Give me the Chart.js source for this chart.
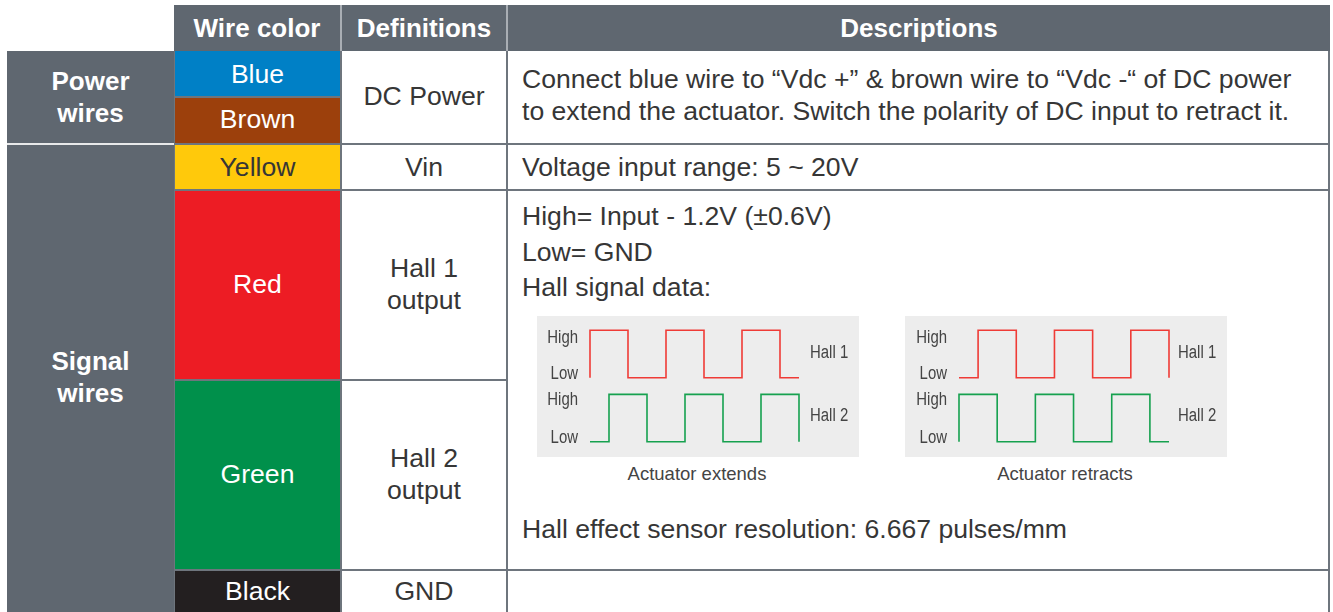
<!DOCTYPE html>
<html><head><meta charset="utf-8">
<script src="https://cdn.jsdelivr.net/npm/chart.js@4.4.1/dist/chart.umd.min.js"></script>
<style>
html,body{margin:0;padding:0}
body{width:1333px;height:612px;overflow:hidden;background:#fff;font-family:"Liberation Sans",Arial,sans-serif;position:relative;color:#363636}
.a{position:absolute;box-sizing:border-box}
.c{display:flex;align-items:center;justify-content:center;text-align:center;white-space:pre-line}
.hd{color:#fff;font-weight:bold;font-size:26px}
.bd{font-size:26.6px;line-height:32px}
.lbl{position:absolute;font-family:"Liberation Sans",Arial,sans-serif;font-size:18px;color:#444;line-height:18px;white-space:nowrap}
.cap{position:absolute;font-size:18.5px;color:#444;white-space:nowrap;transform:translate(-50%,-50%)}
</style></head><body>
<div id="root"></div>
<script>
// ---- data ----
const headers = ["Wire color", "Definitions", "Descriptions"];
const groups = ["Power\nwires", "Signal\nwires"];
const wireNames = ["Blue", "Brown", "Yellow", "Red", "Green", "Black"];
const wireColors = ["#0080c6", "#9c400c", "#ffc90b", "#ed1c24", "#00904b", "#231f20"];
const wireTextColors = ["#fff", "#fff", "#363636", "#fff", "#fff", "#fff"];
const definitions = ["DC Power", "Vin", "Hall 1\noutput", "Hall 2\noutput", "GND"];
const descPower = "Connect blue wire to \u201cVdc +\u201d & brown wire to \u201cVdc -\u201c of DC power\nto extend the actuator. Switch the polarity of DC input to retract it.";
const descVin = "Voltage input range: 5 ~ 20V";
const descHallLines = ["High= Input - 1.2V (\u00b10.6V)", "Low= GND", "Hall signal data:"];
const descResolution = "Hall effect sensor resolution: 6.667 pulses/mm";
const descGnd = "";
const levelLabels = ["High", "Low"];
const signalNames = ["Hall 1", "Hall 2"];
const waveCaptions = ["Actuator extends", "Actuator retracts"];
// waveform vertices: [time step, logic level]
const hall1Extend  = [[0,0],[0,1],[2,1],[2,0],[4,0],[4,1],[6,1],[6,0],[8,0],[8,1],[10,1],[10,0],[11,0]];
const hall2Extend  = [[0,0],[1,0],[1,1],[3,1],[3,0],[5,0],[5,1],[7,1],[7,0],[9,0],[9,1],[11,1],[11,0]];
const hall1Retract = [[0,0],[1,0],[1,1],[3,1],[3,0],[5,0],[5,1],[7,1],[7,0],[9,0],[9,1],[11,1],[11,0]];
const hall2Retract = [[0,0],[0,1],[2,1],[2,0],[4,0],[4,1],[6,1],[6,0],[8,0],[8,1],[10,1],[10,0],[11,0]];

// ---- layout ----
const HEAD = "#5f6770", LINE = "#6e757d";
function box(x, y, w, h, bg, cls, txt, style) {
  const d = document.createElement('div');
  d.className = 'a ' + (cls || '');
  d.style.left = x + 'px'; d.style.top = y + 'px';
  d.style.width = w + 'px'; d.style.height = h + 'px';
  if (bg) d.style.background = bg;
  if (txt !== undefined) d.textContent = txt;
  if (style) Object.assign(d.style, style);
  document.body.appendChild(d);
  return d;
}
// header
box(174, 5, 1156, 46, HEAD);
const hx = [[174, 166], [342, 164], [508, 822]];
headers.forEach((h, i) => box(hx[i][0], 5, hx[i][1], 46, null, 'c hd', h));
box(340, 5, 2, 46, "#a9aeb4");
box(506, 5, 2, 46, "#a9aeb4");
// body line background
box(174, 51, 1156, 561, LINE);
// left group column
box(7, 51, 167, 92, HEAD, 'c hd', groups[0], {lineHeight: '32px'});
box(7, 143, 167, 2, "#e8e9ea");
box(7, 145, 167, 467, HEAD, 'c hd', groups[1], {lineHeight: '32px', paddingBottom: '3px'});
// wire color cells
const rowY = [[51, 45], [98, 45], [145, 44], [191, 188], [381, 188], [571, 45]];
const rowPad = [0, 3, 0, 3, 3, 5];
wireNames.forEach((n, i) => box(175, rowY[i][0], 165, rowY[i][1], wireColors[i], 'c bd', n, {color: wireTextColors[i], paddingBottom: rowPad[i] + 'px'}));
// definitions
const defY = [[51, 92], [145, 44], [191, 188], [381, 188], [571, 45]];
const defPad = [2, 0, 3, 3, 5];
definitions.forEach((d, i) => box(342, defY[i][0], 164, defY[i][1], '#fff', 'c bd', d, {paddingBottom: defPad[i] + 'px'}));
// descriptions
box(508, 51, 820, 92, '#fff', 'c bd', descPower, {justifyContent: 'flex-start', textAlign: 'left', paddingLeft: '14px', paddingBottom: '4px'});
box(508, 145, 820, 44, '#fff', 'c bd', descVin, {justifyContent: 'flex-start', paddingLeft: '14px'});
box(508, 191, 820, 378, '#fff');
box(508, 571, 820, 45, '#fff', 'c bd', descGnd);
descHallLines.forEach((t, i) => box(522, 198 + i * 35.5, 600, 36, null, 'bd', t, {lineHeight: '36px', whiteSpace: 'nowrap'}));
box(522, 511, 700, 36, null, 'bd', descResolution, {lineHeight: '36px', whiteSpace: 'nowrap'});

// ---- waveforms ----
const panels = [
  {x: 537, sets: [hall1Extend, hall2Extend], lx: 578, nx: 810, cap: waveCaptions[0], cx: 697, padL: 53, padR: 60},
  {x: 905, sets: [hall1Retract, hall2Retract], lx: 947, nx: 1178, cap: waveCaptions[1], cx: 1065, padL: 54, padR: 58}
];
const offsets = [1.35, 0];
const colors = ["#ef3b36", "#16a14f"];
panels.forEach(p => {
  const wrap = box(p.x, 316, 322, 141, '#ededed');
  const cv = document.createElement('canvas');
  cv.width = 322; cv.height = 141;
  wrap.appendChild(cv);
  new Chart(cv, {
    type: 'line',
    data: {
      datasets: p.sets.map((s, k) => ({
        data: s.map(v => ({x: v[0], y: v[1] + offsets[k]})),
        borderColor: colors[k], borderWidth: 1.6, pointRadius: 0, fill: false, tension: 0, clip: false
      }))
    },
    options: {
      responsive: false, animation: false, maintainAspectRatio: false,
      layout: {padding: {left: p.padL, right: p.padR, top: 0, bottom: 0}},
      plugins: {legend: {display: false}, tooltip: {enabled: false}},
      scales: {
        x: {type: 'linear', min: 0, max: 11, display: false},
        y: {type: 'linear', min: -0.32, max: 2.65, display: false}
      }
    }
  });
  const ly = [337, 373, 399, 437];
  ly.forEach((y, i) => {
    const l = document.createElement('div');
    l.className = 'lbl';
    l.textContent = levelLabels[i % 2];
    l.style.top = (y - 9) + 'px';
    l.style.right = (1333 - p.lx) + 'px';
    l.style.transformOrigin = 'right center';
    l.style.transform = 'scaleX(0.83)';
    document.body.appendChild(l);
  });
  [352, 415].forEach((y, i) => {
    const l = document.createElement('div');
    l.className = 'lbl';
    l.textContent = signalNames[i];
    l.style.top = (y - 9) + 'px';
    l.style.left = p.nx + 'px';
    l.style.transformOrigin = 'left center';
    l.style.transform = 'scaleX(0.83)';
    document.body.appendChild(l);
  });
  const c = document.createElement('div');
  c.className = 'cap';
  c.textContent = p.cap;
  c.style.left = p.cx + 'px'; c.style.top = '474px';
  document.body.appendChild(c);
});
</script>
</body></html>
